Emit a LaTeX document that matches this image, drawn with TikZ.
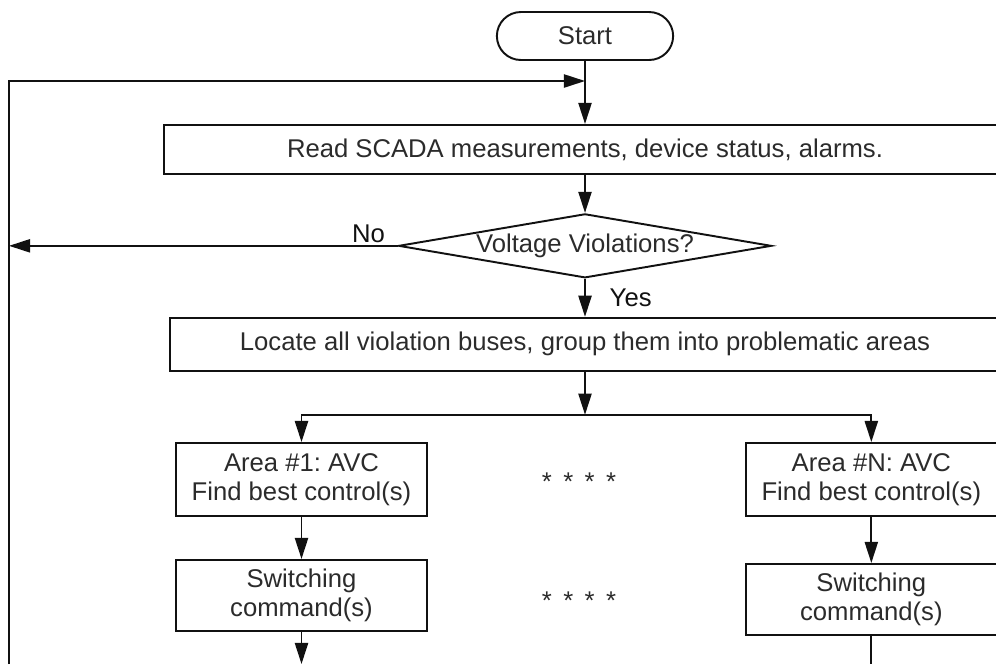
\documentclass[tikz,border=0pt]{standalone}
\usepackage{fontspec}
\setmainfont{Liberation Sans}
\usetikzlibrary{arrows.meta,positioning,shapes.geometric,shapes.misc,calc}
\definecolor{avcInk}{HTML}{2B2B2B}
\definecolor{avcLine}{HTML}{111111}
\frenchspacing

\begin{document}
\begin{tikzpicture}[x=0.02cm,y=-0.02cm,font=\fontsize{14.6}{16.5}\selectfont,text=avcInk]
    \tikzset{stepbox/.style={draw=avcLine,line width=1.1pt,minimum width=5.02cm,align=center,inner sep=2pt},
      flow/.style={-{Triangle[length=12pt,width=7.5pt]},avcLine,line width=1pt}}
    \useasboundingbox (0,0) rectangle (996,664);
    \node[draw=avcLine,line width=1.1pt,rounded rectangle,minimum width=3.76cm,minimum height=0.96cm] (start) at (585,36) {Start};
    \node[stepbox,minimum width=16.84cm,minimum height=0.98cm,below=1.26cm of start] (read) {Read SCADA measurements, device status, alarms.};
    \node[draw=avcLine,line width=1.1pt,diamond,aspect=5.8,minimum width=7.46cm,minimum height=1.28cm,inner sep=0pt,below=0.76cm of read] (volt) {Voltage Violations?};
    \node[stepbox,minimum width=16.6cm,minimum height=1.06cm,below=0.76cm of volt] (locate) {Locate all violation buses, group them into problematic areas};
    \node[stepbox,minimum height=1.46cm] (area1) at (301.5,479.5) {Area \#1: AVC\\ Find best control(s)};
    \node[stepbox,minimum height=1.46cm,right=6.34cm of area1] (areaN) {Area \#N: AVC\\ Find best control(s)};
    \node[stepbox,minimum height=1.42cm,below=0.84cm of area1] (switch1) {Switching\\ command(s)};
    \node[stepbox,minimum height=1.42cm,below=0.92cm of areaN] (switchN) {Switching\\ command(s)};
    \node[anchor=base] (dots1) at (579,490) {*\,\ *\,\ *\,\ *};
    \node[anchor=base] (dots2) at (579,609) {*\,\ *\,\ *\,\ *};
    \coordinate (looptop) at (9,81);
    \coordinate (loopbot) at (9,664);
    \coordinate (split) at ($(locate.south)+(0,43)$);
    \draw[flow] (start) -- (read);
    \draw[flow] (read) -- (volt);
    \draw[flow] (volt) -- node[right=0.36cm]{Yes} (locate);
    \draw[flow] (volt.west) -- node[pos=0.075,above,inner sep=1pt]{No} (volt.west -| looptop);
    \draw[flow] (loopbot) -- (looptop) -- (looptop -| start.south);
    \draw[flow] (locate) -- (split);
    \draw[flow] (split) -| (area1);
    \draw[flow] (split) -| (areaN);
    \draw[flow] (area1) -- (switch1);
    \draw[flow] (areaN) -- (switchN);
    \draw[flow] (switch1) -- (switch1 |- loopbot);
    \draw[avcLine,line width=1pt] (switchN) -- (switchN |- loopbot);
  \end{tikzpicture}
\end{document}
